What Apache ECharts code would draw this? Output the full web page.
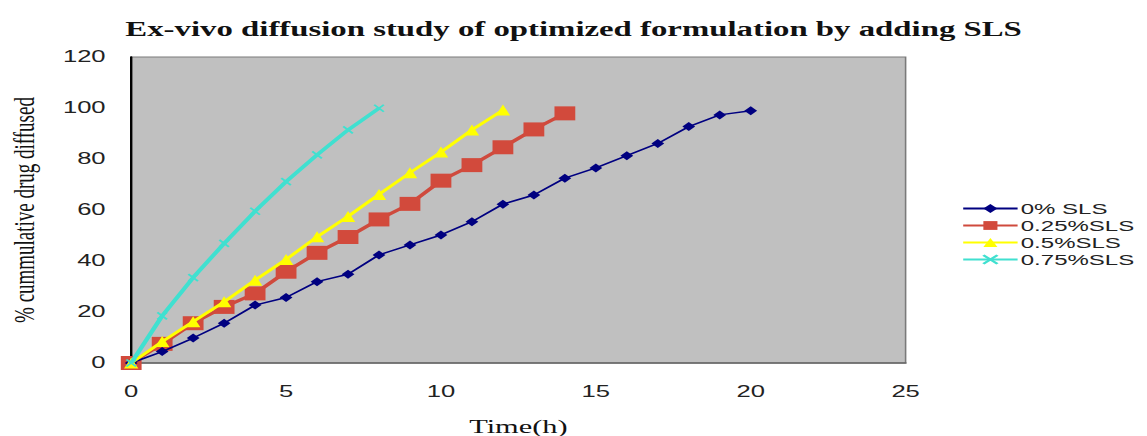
<!DOCTYPE html>
<html>
<head>
<meta charset="utf-8">
<title>Ex-vivo diffusion study</title>
<script src="https://cdn.jsdelivr.net/npm/echarts@6/dist/echarts.min.js"></script>
<style>
  html, body { margin: 0; padding: 0; background: #ffffff; overflow: hidden; }
  /* the chart is laid out narrow and widened horizontally, like a stretched spreadsheet chart */
  #chart { width: 717px; height: 436px; transform: scaleX(1.6); transform-origin: 0 0; }
</style>
</head>
<body>
<div id="chart"></div>
<script>
// Sampling times (h) for each formulation
const hoursSls0   = [0, 1, 2, 3, 4, 5, 6, 7, 8, 9, 10, 11, 12, 13, 14, 15, 16, 17, 18, 19, 20];
const hoursSls025 = [0, 1, 2, 3, 4, 5, 6, 7, 8, 9, 10, 11, 12, 13, 14];
const hoursSls05  = [0, 1, 2, 3, 4, 5, 6, 7, 8, 9, 10, 11, 12];
const hoursSls075 = [0, 1, 2, 3, 4, 5, 6, 7, 8];

// % cumulative drug diffused
const diffusedSls0   = [0, 4.5, 9.8, 15.6, 22.7, 25.7, 31.9, 34.8, 42.4, 46.3, 50.2, 55.4, 62.3, 65.9, 72.5, 76.5, 81.3, 86.1, 92.7, 97.3, 98.9];
const diffusedSls025 = [0, 7.5, 15.6, 22.0, 27.3, 35.8, 43.2, 49.4, 56.3, 62.4, 71.5, 77.6, 84.6, 91.6, 97.9];
const diffusedSls05  = [0, 8.4, 16.2, 24.0, 32.5, 40.6, 49.5, 57.5, 66.1, 74.6, 82.7, 91.4, 99.2];
const diffusedSls075 = [0, 18.5, 33.5, 46.9, 59.5, 71.1, 81.6, 91.4, 99.9];

const seriesNames = ['0% SLS', '0.25%SLS', '0.5%SLS', '0.75%SLS'];

// Axis ranges
const xMin = 0, xMax = 25, xStep = 5;
const yMin = 0, yMax = 120, yStep = 20;

const pairs = (xs, ys) => xs.map((x, i) => [x, ys[i]]);

const crossSymbol = 'path://M0,0L10,10M10,0L0,10';
const sansFont = '"Liberation Sans", Arial, sans-serif';
const serifFont = '"Liberation Serif", "Times New Roman", serif';

const chart = echarts.init(document.getElementById('chart'), null, { renderer: 'svg' });

chart.setOption({
  animation: false,
  backgroundColor: '#ffffff',
  title: {
    text: 'Ex-vivo diffusion study of optimized formulation by adding SLS',
    left: 'center',
    top: 14,
    textStyle: { fontFamily: serifFont, fontWeight: 'bold', fontSize: 20.5, color: '#111' }
  },
  grid: {
    left: 82, right: 151, top: 57, bottom: 73,
    outerBoundsMode: 'none',
    containLabel: false,
    show: true,
    backgroundColor: '#c0c0c0',
    borderColor: '#7a7a7a',
    borderWidth: 1
  },
  legend: {
    orient: 'vertical',
    left: 596,
    top: 196,
    itemWidth: 34,
    itemHeight: 11,
    itemGap: 2,
    data: seriesNames,
    textStyle: { fontFamily: sansFont, fontSize: 15, color: '#222', padding: [0, 0, 0, -3] }
  },
  xAxis: {
    type: 'value',
    min: xMin, max: xMax, interval: xStep,
    name: 'Time(h)',
    nameLocation: 'middle',
    nameGap: 54,
    nameTextStyle: { fontFamily: serifFont, fontSize: 19, color: '#111' },
    axisLine: { lineStyle: { color: '#666', width: 1.5 } },
    axisTick: { show: false },
    splitLine: { show: false },
    axisLabel: { margin: 21, fontFamily: sansFont, fontSize: 16, color: '#222' }
  },
  yAxis: {
    type: 'value',
    min: yMin, max: yMax, interval: yStep,
    name: '% cummulative drug diffused',
    nameLocation: 'middle',
    nameRotate: 90,
    nameGap: 58,
    nameTextStyle: { fontFamily: serifFont, fontSize: 19, color: '#111' },
    axisLine: { show: true, lineStyle: { color: '#000', width: 1.5 } },
    axisTick: { show: false },
    splitLine: { show: false },
    axisLabel: { margin: 16, fontFamily: sansFont, fontSize: 16, color: '#222' }
  },
  series: [
    {
      name: seriesNames[0],
      type: 'line',
      data: pairs(hoursSls0, diffusedSls0),
      symbol: 'diamond',
      symbolSize: [8, 9],
      lineStyle: { color: '#000080', width: 1.5 },
      itemStyle: { color: '#000080' },
      z: 4
    },
    {
      name: seriesNames[1],
      type: 'line',
      data: pairs(hoursSls025, diffusedSls025),
      symbol: 'rect',
      symbolSize: [13, 14],
      lineStyle: { color: '#cf4a3d', width: 3 },
      itemStyle: { color: '#d24a3c' },
      z: 3
    },
    {
      name: seriesNames[2],
      type: 'line',
      data: pairs(hoursSls05, diffusedSls05),
      symbol: 'triangle',
      symbolSize: [9, 11],
      lineStyle: { color: '#ffff00', width: 2.5 },
      itemStyle: { color: '#ffff00' },
      z: 5
    },
    {
      name: seriesNames[3],
      type: 'line',
      data: pairs(hoursSls075, diffusedSls075),
      symbol: crossSymbol,
      symbolSize: [6, 7],
      lineStyle: { color: '#40e0d0', width: 3 },
      itemStyle: { color: '#40e0d0', borderColor: '#40e0d0', borderWidth: 1.5 },
      z: 6
    }
  ]
});
</script>
</body>
</html>
